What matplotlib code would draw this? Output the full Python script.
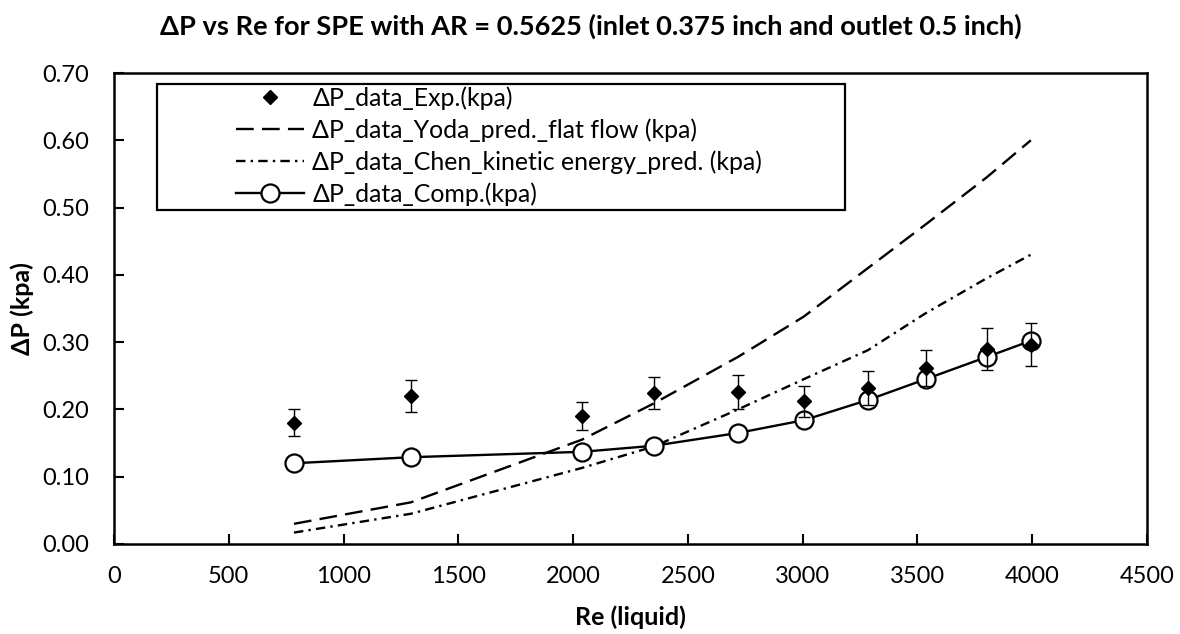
import matplotlib
matplotlib.use("Agg")
import matplotlib.pyplot as plt
from matplotlib.patches import Rectangle

plt.rcParams['font.family'] = ['Lato', 'DejaVu Sans']

re_liquid = [784, 1294, 2038, 2352, 2718, 3005, 3284, 3536, 3802, 3994]
dp_exp = [0.180, 0.220, 0.190, 0.224, 0.226, 0.212, 0.232, 0.262, 0.290, 0.296]
dp_exp_err = [0.020, 0.024, 0.021, 0.024, 0.025, 0.023, 0.025, 0.027, 0.031, 0.032]
dp_yoda = [0.030, 0.062, 0.155, 0.209, 0.278, 0.338, 0.410, 0.475, 0.545, 0.600]
dp_chen = [0.017, 0.045, 0.113, 0.145, 0.200, 0.245, 0.288, 0.343, 0.395, 0.430]
dp_comp = [0.120, 0.129, 0.137, 0.146, 0.165, 0.184, 0.214, 0.245, 0.278, 0.302]

x_ticks = [0, 500, 1000, 1500, 2000, 2500, 3000, 3500, 4000, 4500]
y_ticks = [0.0, 0.1, 0.2, 0.3, 0.4, 0.5, 0.6, 0.7]

labels = ["ΔP_data_Exp.(kpa)",
          "ΔP_data_Yoda_pred._flat flow (kpa)",
          "ΔP_data_Chen_kinetic energy_pred. (kpa)",
          "ΔP_data_Comp.(kpa)"]
title = "ΔP vs Re for SPE with AR = 0.5625 (inlet 0.375 inch and outlet 0.5 inch)"

fig = plt.figure(figsize=(11.8, 6.34), dpi=100)
ax = fig.add_axes([114/1180, 1-544/634, (1147-114)/1180, (544-73)/634])

h_yoda, = ax.plot(re_liquid, dp_yoda, color='black', lw=1.7, dashes=(7.5, 3.5), zorder=2)
h_chen, = ax.plot(re_liquid, dp_chen, color='black', lw=1.7, dashes=(4, 2.2, 1, 2.2), zorder=2)
h_comp, = ax.plot(re_liquid, dp_comp, color='black', lw=1.7, marker='o', markersize=13,
                  markerfacecolor='white', markeredgecolor='black', markeredgewidth=1.6, zorder=3)
eb = ax.errorbar(re_liquid, dp_exp, yerr=dp_exp_err, fmt='D', color='black', markersize=7.5,
                 ecolor='black', elinewidth=1.0, capsize=4.3, capthick=1.0, zorder=4)
h_exp = eb[0]

ax.set_xlim(0, 4500)
ax.set_ylim(0, 0.70)
ax.set_xticks(x_ticks)
ax.set_yticks(y_ticks)
ax.set_yticklabels([f"{v:.2f}" for v in y_ticks])
ax.tick_params(direction='in', length=7, width=1.5, labelsize=17)
ax.tick_params(axis='y', pad=18)
ax.tick_params(axis='x', pad=16)
for s in ax.spines.values():
    s.set_linewidth(1.8)

ax.set_xlabel("Re (liquid)", fontsize=18, fontweight='bold')
ax.set_ylabel("ΔP (kpa)", fontsize=18, fontweight='bold')
ax.xaxis.set_label_coords(0.5, -0.1295)
ax.yaxis.set_label_coords(-0.0775, 0.5)

fig.text(591/1180, 1-26/634, title, ha='center', va='center', fontsize=19.6, fontweight='bold')

# legend box
x0 = (157-114)/1033
y0 = (544-210)/471
w = (845-157)/1033
h = (210-84)/471
ax.add_patch(Rectangle((x0, y0), w, h, transform=ax.transAxes, facecolor='white',
                       edgecolor='black', lw=1.6, zorder=5))
leg = ax.legend([h_exp, h_yoda, h_chen, h_comp], labels, loc='upper left',
                bbox_to_anchor=((236-114)/1033, (544-86)/471), frameon=False,
                fontsize=17.9, handlelength=2.75, handletextpad=0.32, labelspacing=0.34,
                borderpad=0, borderaxespad=0)
leg.set_zorder(6)

fig.savefig("out.png", dpi=100)
